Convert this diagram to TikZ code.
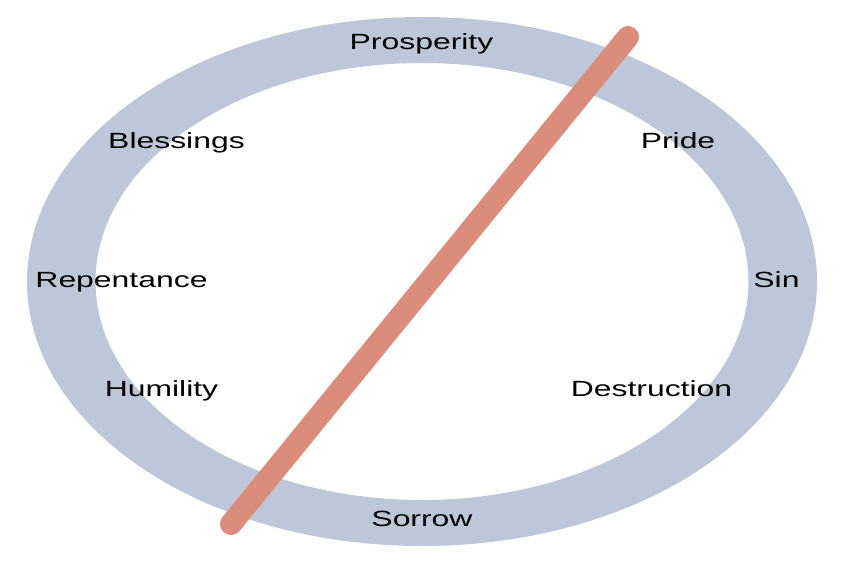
\documentclass[tikz,border=0pt]{standalone}
\usepackage{fontspec}
\setmainfont{Liberation Sans}
\usepackage{tikz}
\usetikzlibrary{positioning}
\usepackage{xcolor}
\definecolor{ringblue}{HTML}{BCC8D9}
\definecolor{barred}{HTML}{DC8C7B}
\newcommand{\widetxt}[1]{\scalebox{1.45}[1]{#1}}
\tikzset{
  ring/.style={fill=ringblue, even odd rule},
  stage/.style={anchor=base, inner sep=0pt, font=\fontsize{22}{26}\selectfont, text=black},
  bar/.style={draw=barred, line width=22pt, line cap=round}
}

\begin{document}
\begin{tikzpicture}[x=1pt, y=-1pt]
\useasboundingbox (0,0) rectangle (843,564);
\coordinate (centre) at (422,281.5);
\fill[ring] (centre) ellipse [x radius=395, y radius=264.5]
            (centre) ellipse [x radius=326.5, y radius=218.5];
% the stages round the ring
\node[stage] (prosperity) at (421.5,50) {\widetxt{Prosperity}};
\node[stage] (pride) at (678,149) {\widetxt{Pride}};
\node[stage] (sin) at (776.5,287) {\widetxt{Sin}};
\node[stage] (destruction) at (651.5,396) {\widetxt{Destruction}};
\node[stage] (sorrow) at (422,526) {\widetxt{Sorrow}};
\node[stage] (humility) at (161.5,396) {\widetxt{Humility}};
\node[stage] (repentance) at (121.5,287) {\widetxt{Repentance}};
\node[stage] (blessings) at (176.5,149) {\widetxt{Blessings}};
% the bar across
\coordinate (barlow) at (231,524);
\coordinate (bartop) at (628,37);
\draw[bar] (barlow) -- (bartop);
\end{tikzpicture}
\end{document}
